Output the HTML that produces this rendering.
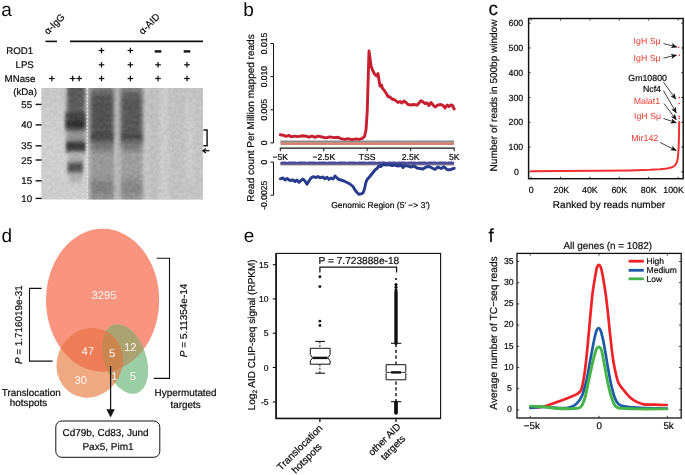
<!DOCTYPE html>
<html lang="en">
<head>
<meta charset="utf-8">
<title>Figure</title>
<style>
html,body{margin:0;padding:0;background:#fff;}
body{width:685px;height:475px;overflow:hidden;}
svg{display:block;font-family:'Liberation Sans', Arial, Helvetica, sans-serif;}
text{stroke-width:0.2px;paint-order:stroke;text-rendering:geometricPrecision;}
text.k{stroke:#0a0a0a;}
</style>
</head>
<body>
<svg width="685" height="475" viewBox="0 0 685 475">
<rect width="685" height="475" fill="#fff"/>
<text x="1.2" y="15.8" font-size="19" text-anchor="start" fill="#0b0b0b">a</text>
<defs><clipPath id="gelclip"><rect x="41.3" y="88.1" width="161.7" height="111.5"/></clipPath><filter id="b1" x="-50%" y="-50%" width="200%" height="200%"><feGaussianBlur stdDeviation="1.8 2.6"/></filter><filter id="b2" x="-50%" y="-50%" width="200%" height="200%"><feGaussianBlur stdDeviation="2.2 5"/></filter><filter id="b3" x="-50%" y="-50%" width="200%" height="200%"><feGaussianBlur stdDeviation="2 7"/></filter><filter id="grain" x="0" y="0" width="100%" height="100%" color-interpolation-filters="sRGB"><feTurbulence type="fractalNoise" baseFrequency="0.28" numOctaves="3" seed="11" result="n"/><feColorMatrix in="n" type="matrix" values="2.4 0 0 0 -0.7  2.4 0 0 0 -0.7  2.4 0 0 0 -0.7  0 0 0 0 0.045"/></filter><linearGradient id="gelbg" x1="0" y1="0" x2="0" y2="1"><stop offset="0" stop-color="#c9c9c9"/><stop offset="0.5" stop-color="#d3d3d3"/><stop offset="1" stop-color="#d0d0d0"/></linearGradient></defs>
<g clip-path="url(#gelclip)">
<rect x="41" y="88" width="163" height="112" fill="url(#gelbg)"/>
<rect x="146" y="84" width="58" height="120" fill="#c4c4c4" opacity="0.8" filter="url(#b2)"/>
<rect x="150" y="84" width="10" height="120" fill="#bdbdbd" opacity="0.5" filter="url(#b2)"/>
<rect x="160" y="84" width="8" height="120" fill="#d0d0d0" opacity="0.9" filter="url(#b2)"/>
<rect x="172" y="84" width="10" height="120" fill="#c2c2c2" opacity="0.5" filter="url(#b2)"/>
<rect x="186" y="100" width="8" height="80" fill="#d0d0d0" opacity="0.8" filter="url(#b2)"/>
<rect x="67" y="78" width="18" height="60" fill="#707070" opacity="0.95" filter="url(#b2)"/>
<rect x="68" y="80" width="16.5" height="30" fill="#505050" opacity="0.7" filter="url(#b1)"/>
<rect x="65.5" y="112" width="20" height="7" fill="#333" opacity="0.9" filter="url(#b1)"/>
<rect x="65.5" y="119" width="20" height="10" fill="#262626" opacity="0.95" filter="url(#b1)"/>
<rect x="68" y="131.5" width="16" height="9" fill="#999" opacity="0.7" filter="url(#b1)"/>
<rect x="66" y="141" width="19.5" height="11" fill="#2a2a2a" opacity="0.95" filter="url(#b1)"/>
<rect x="68.5" y="154" width="15" height="7" fill="#a5a5a5" opacity="0.75" filter="url(#b1)"/>
<rect x="67.5" y="162" width="15.5" height="11" fill="#404040" opacity="0.9" filter="url(#b1)"/>
<rect x="70" y="174" width="12" height="8" fill="#a0a0a0" opacity="0.7" filter="url(#b1)"/>
<rect x="89.5" y="78" width="25.5" height="130" fill="#9a9a9a" opacity="1" filter="url(#b2)"/>
<rect x="90.5" y="90" width="23" height="50" fill="#4e4e4e" opacity="0.95" filter="url(#b2)"/>
<rect x="91" y="134" width="22" height="6.5" fill="#303030" opacity="0.85" filter="url(#b1)"/>
<rect x="91" y="139" width="22" height="10" fill="#5c5c5c" opacity="0.8" filter="url(#b2)"/>
<rect x="91" y="181" width="22" height="14" fill="#747474" opacity="0.8" filter="url(#b2)"/>
<rect x="115.5" y="84" width="4" height="120" fill="#b4b4b4" opacity="0.7" filter="url(#b1)"/>
<rect x="120" y="78" width="23" height="130" fill="#9e9e9e" opacity="1" filter="url(#b2)"/>
<rect x="121" y="90" width="21" height="50" fill="#525252" opacity="0.95" filter="url(#b2)"/>
<rect x="121.5" y="134" width="20.5" height="6.5" fill="#343434" opacity="0.85" filter="url(#b1)"/>
<rect x="121.5" y="139" width="20.5" height="10" fill="#606060" opacity="0.8" filter="url(#b2)"/>
<rect x="121.5" y="181" width="20.5" height="14" fill="#7c7c7c" opacity="0.8" filter="url(#b2)"/>
<line x1="87.2" y1="88" x2="87.2" y2="200" stroke="#f0f0f0" stroke-width="1.3" stroke-dasharray="2.2 1.3" opacity="0.9"/>
<rect x="41" y="88" width="163" height="112" fill="#808080" filter="url(#grain)"/>
</g>
<line x1="45.5" y1="41.4" x2="57" y2="41.4" stroke="#111" stroke-width="1.6"/>
<line x1="70" y1="41.4" x2="203" y2="41.4" stroke="#111" stroke-width="1.6"/>
<text class="k" x="48" y="35" font-size="9.7" text-anchor="start" fill="#0a0a0a" transform="rotate(-45 48 35)">α-IgG</text>
<text class="k" x="142.7" y="35" font-size="9.7" text-anchor="start" fill="#0a0a0a" transform="rotate(-45 142.7 35)">α-AID</text>
<text class="k" x="6.3" y="54.3" font-size="9.7" text-anchor="start" fill="#0a0a0a">ROD1</text>
<text class="k" x="15.5" y="68.4" font-size="9.7" text-anchor="start" fill="#0a0a0a">LPS</text>
<text class="k" x="4.6" y="82.1" font-size="9.7" text-anchor="start" fill="#0a0a0a">MNase</text>
<text class="k" x="13.2" y="95.3" font-size="9.7" text-anchor="start" fill="#0a0a0a">(kDa)</text>
<line x1="98.7" y1="50.5" x2="104.3" y2="50.5" stroke="#111" stroke-width="1.25"/>
<line x1="101.5" y1="47.7" x2="101.5" y2="53.3" stroke="#111" stroke-width="1.25"/>
<line x1="127.60000000000001" y1="50.5" x2="133.20000000000002" y2="50.5" stroke="#111" stroke-width="1.25"/>
<line x1="130.4" y1="47.7" x2="130.4" y2="53.3" stroke="#111" stroke-width="1.25"/>
<line x1="154.7" y1="51.4" x2="161.3" y2="51.4" stroke="#111" stroke-width="2.4"/>
<line x1="183.7" y1="51.4" x2="190.3" y2="51.4" stroke="#111" stroke-width="2.4"/>
<line x1="98.7" y1="64.8" x2="104.3" y2="64.8" stroke="#111" stroke-width="1.25"/>
<line x1="101.5" y1="62.0" x2="101.5" y2="67.6" stroke="#111" stroke-width="1.25"/>
<line x1="127.60000000000001" y1="64.8" x2="133.20000000000002" y2="64.8" stroke="#111" stroke-width="1.25"/>
<line x1="130.4" y1="62.0" x2="130.4" y2="67.6" stroke="#111" stroke-width="1.25"/>
<line x1="155.2" y1="64.8" x2="160.8" y2="64.8" stroke="#111" stroke-width="1.25"/>
<line x1="158" y1="62.0" x2="158" y2="67.6" stroke="#111" stroke-width="1.25"/>
<line x1="184.2" y1="64.8" x2="189.8" y2="64.8" stroke="#111" stroke-width="1.25"/>
<line x1="187" y1="62.0" x2="187" y2="67.6" stroke="#111" stroke-width="1.25"/>
<line x1="49.0" y1="78.5" x2="54.599999999999994" y2="78.5" stroke="#111" stroke-width="1.25"/>
<line x1="51.8" y1="75.7" x2="51.8" y2="81.3" stroke="#111" stroke-width="1.25"/>
<line x1="69.8" y1="78.5" x2="75.39999999999999" y2="78.5" stroke="#111" stroke-width="1.25"/>
<line x1="72.6" y1="75.7" x2="72.6" y2="81.3" stroke="#111" stroke-width="1.25"/>
<line x1="76.4" y1="78.5" x2="82.0" y2="78.5" stroke="#111" stroke-width="1.25"/>
<line x1="79.2" y1="75.7" x2="79.2" y2="81.3" stroke="#111" stroke-width="1.25"/>
<line x1="98.7" y1="78.5" x2="104.3" y2="78.5" stroke="#111" stroke-width="1.25"/>
<line x1="101.5" y1="75.7" x2="101.5" y2="81.3" stroke="#111" stroke-width="1.25"/>
<line x1="127.60000000000001" y1="78.5" x2="133.20000000000002" y2="78.5" stroke="#111" stroke-width="1.25"/>
<line x1="130.4" y1="75.7" x2="130.4" y2="81.3" stroke="#111" stroke-width="1.25"/>
<line x1="155.2" y1="78.5" x2="160.8" y2="78.5" stroke="#111" stroke-width="1.25"/>
<line x1="158" y1="75.7" x2="158" y2="81.3" stroke="#111" stroke-width="1.25"/>
<line x1="184.2" y1="78.5" x2="189.8" y2="78.5" stroke="#111" stroke-width="1.25"/>
<line x1="187" y1="75.7" x2="187" y2="81.3" stroke="#111" stroke-width="1.25"/>
<text class="k" x="32.1" y="107.9" font-size="9.7" text-anchor="end" fill="#0a0a0a">55</text>
<line x1="35.6" y1="104.4" x2="41.6" y2="104.4" stroke="#111" stroke-width="1.4"/>
<text class="k" x="32.1" y="128.4" font-size="9.7" text-anchor="end" fill="#0a0a0a">40</text>
<line x1="35.6" y1="124.9" x2="41.6" y2="124.9" stroke="#111" stroke-width="1.4"/>
<text class="k" x="32.1" y="149.3" font-size="9.7" text-anchor="end" fill="#0a0a0a">35</text>
<line x1="35.6" y1="145.8" x2="41.6" y2="145.8" stroke="#111" stroke-width="1.4"/>
<text class="k" x="32.1" y="163.5" font-size="9.7" text-anchor="end" fill="#0a0a0a">25</text>
<line x1="35.6" y1="160" x2="41.6" y2="160" stroke="#111" stroke-width="1.4"/>
<text class="k" x="32.1" y="184.3" font-size="9.7" text-anchor="end" fill="#0a0a0a">15</text>
<line x1="35.6" y1="180.8" x2="41.6" y2="180.8" stroke="#111" stroke-width="1.4"/>
<text class="k" x="32.1" y="201.9" font-size="9.7" text-anchor="end" fill="#0a0a0a">10</text>
<line x1="35.6" y1="198.4" x2="41.6" y2="198.4" stroke="#111" stroke-width="1.4"/>
<path d="M203.4,130 H207.1 V145.7 H203.4" stroke="#111" stroke-width="1.4" fill="none"/>
<line x1="203.3" y1="150.7" x2="209.4" y2="150.7" stroke="#111" stroke-width="1.3"/>
<path d="M205.9,148.4 L203,150.7 L205.9,153" stroke="#111" stroke-width="1.3" fill="none"/>
<text x="243.2" y="15.8" font-size="19" text-anchor="start" fill="#0b0b0b">b</text>
<text class="k" x="253.6" y="118" font-size="10" text-anchor="middle" fill="#0a0a0a" transform="rotate(-90 253.6 118)">Read count Per Million mapped reads</text>
<line x1="273.5" y1="43.5" x2="273.5" y2="142.9" stroke="#111" stroke-width="1"/>
<line x1="270.5" y1="43.5" x2="273.5" y2="43.5" stroke="#111" stroke-width="1"/>
<text class="k" x="267.3" y="43.5" font-size="8.6" text-anchor="middle" fill="#0a0a0a" transform="rotate(-90 267.3 43.5)">0.015</text>
<line x1="270.5" y1="76.6" x2="273.5" y2="76.6" stroke="#111" stroke-width="1"/>
<text class="k" x="267.3" y="76.6" font-size="8.6" text-anchor="middle" fill="#0a0a0a" transform="rotate(-90 267.3 76.6)">0.010</text>
<line x1="270.5" y1="109.8" x2="273.5" y2="109.8" stroke="#111" stroke-width="1"/>
<text class="k" x="267.3" y="109.8" font-size="8.6" text-anchor="middle" fill="#0a0a0a" transform="rotate(-90 267.3 109.8)">0.005</text>
<line x1="270.5" y1="142.9" x2="273.5" y2="142.9" stroke="#111" stroke-width="1"/>
<text class="k" x="267.3" y="142.9" font-size="8.6" text-anchor="middle" fill="#0a0a0a" transform="rotate(-90 267.3 142.9)">0</text>
<line x1="279.8" y1="148.2" x2="454.7" y2="148.2" stroke="#111" stroke-width="1.2"/>
<line x1="280.3" y1="148.2" x2="280.3" y2="151.2" stroke="#111" stroke-width="1"/>
<text class="k" x="280.3" y="159.7" font-size="8.6" text-anchor="middle" fill="#0a0a0a">−5K</text>
<line x1="323.8" y1="148.2" x2="323.8" y2="151.2" stroke="#111" stroke-width="1"/>
<text class="k" x="323.8" y="159.7" font-size="8.6" text-anchor="middle" fill="#0a0a0a">−2.5K</text>
<line x1="367.2" y1="148.2" x2="367.2" y2="151.2" stroke="#111" stroke-width="1"/>
<text class="k" x="367.2" y="159.7" font-size="8.6" text-anchor="middle" fill="#0a0a0a">TSS</text>
<line x1="410.7" y1="148.2" x2="410.7" y2="151.2" stroke="#111" stroke-width="1"/>
<text class="k" x="410.7" y="159.7" font-size="8.6" text-anchor="middle" fill="#0a0a0a">2.5K</text>
<line x1="454.2" y1="148.2" x2="454.2" y2="151.2" stroke="#111" stroke-width="1"/>
<text class="k" x="454.2" y="159.7" font-size="8.6" text-anchor="middle" fill="#0a0a0a">5K</text>
<line x1="273.5" y1="162" x2="273.5" y2="195.2" stroke="#111" stroke-width="1"/>
<line x1="270.5" y1="162" x2="273.5" y2="162" stroke="#111" stroke-width="1"/>
<text class="k" x="267.3" y="162" font-size="8.6" text-anchor="middle" fill="#0a0a0a" transform="rotate(-90 267.3 162)">0</text>
<line x1="270.5" y1="195.2" x2="273.5" y2="195.2" stroke="#111" stroke-width="1"/>
<text class="k" x="267.3" y="195.2" font-size="8.6" text-anchor="middle" fill="#0a0a0a" transform="rotate(-90 267.3 195.2)">-0.0025</text>
<text class="k" x="380.5" y="208.2" font-size="8.5" text-anchor="middle" fill="#0a0a0a">Genomic Region (5' −&gt; 3')</text>
<line x1="280.3" y1="141.6" x2="454.2" y2="141.6" stroke="#8a8a8a" stroke-width="2.2"/>
<line x1="281.6" y1="143.75" x2="453" y2="143.75" stroke="#dc7f6b" stroke-width="2.5" stroke-dasharray="8.1 1.9" stroke-dashoffset="3.3" stroke-linecap="round"/>
<line x1="280.3" y1="164.3" x2="454.2" y2="164.3" stroke="#8f8f8f" stroke-width="2.2"/>
<line x1="281.7" y1="163" x2="452.8" y2="163" stroke="#4b4b9a" stroke-width="3" stroke-dasharray="7.7 2.3" stroke-dashoffset="3.6" stroke-linecap="round"/>
<path d="M280.3,134.8 L283.0,135.2 L286.0,136.4 L289.0,135.3 L291.0,136.9 L294.0,136.1 L298.0,136.6 L303.0,135.8 L306.0,136.2 L309.0,137.2 L312.0,136.0 L315.0,137.3 L318.0,136.2 L322.0,137.0 L326.0,137.8 L330.0,136.8 L334.0,137.6 L338.0,137.2 L341.0,138.6 L345.0,139.4 L348.0,138.6 L352.0,139.6 L356.0,138.8 L359.0,139.4 L362.0,138.6 L364.5,136.5 L366.0,130.0 L367.2,112.0 L368.2,78.0 L369.0,51.0 L370.0,58.0 L371.0,66.0 L372.5,70.0 L374.5,74.0 L376.5,76.0 L378.0,73.5 L379.0,80.0 L380.0,86.0 L381.5,85.0 L382.5,88.5 L384.0,90.0 L386.0,93.0 L388.0,96.5 L390.0,97.0 L392.0,99.0 L395.0,100.0 L398.0,102.5 L400.0,101.5 L402.0,103.0 L404.0,101.0 L406.0,102.5 L408.0,104.5 L411.0,105.0 L414.0,104.5 L417.0,105.2 L419.0,103.0 L421.0,100.8 L423.0,102.0 L425.0,103.5 L427.0,103.0 L429.0,105.5 L431.0,102.5 L433.0,105.0 L435.0,107.0 L438.0,105.0 L441.0,104.5 L443.0,105.5 L445.0,108.0 L447.0,105.0 L449.0,106.5 L451.0,105.0 L452.5,105.5 L454.2,109.0" stroke="#c61f30" stroke-width="2.9" fill="none" stroke-linejoin="round" stroke-linecap="round"/>
<path d="M280.3,178.8 L283.0,178.0 L285.0,180.0 L287.0,178.5 L290.0,180.5 L293.0,180.0 L295.0,181.5 L297.0,180.0 L299.0,182.3 L301.0,180.5 L303.0,179.0 L305.0,181.0 L307.0,184.3 L309.0,181.0 L311.0,178.0 L313.0,176.6 L316.0,177.5 L318.0,176.4 L320.0,177.8 L323.0,177.0 L325.0,178.8 L327.0,177.2 L329.0,179.4 L331.0,178.0 L333.0,179.0 L335.0,176.0 L337.0,178.0 L339.0,179.5 L341.0,180.0 L344.0,181.0 L347.0,182.5 L350.0,184.0 L353.0,186.5 L355.0,190.0 L357.0,192.5 L359.0,194.3 L361.0,193.8 L363.0,193.0 L364.5,189.0 L366.0,182.0 L367.5,179.0 L369.0,177.5 L371.0,175.0 L373.0,172.5 L375.0,170.0 L377.0,168.5 L379.0,166.0 L381.0,166.5 L383.0,164.5 L386.0,165.0 L389.0,164.6 L392.0,165.5 L395.0,165.0 L398.0,166.0 L401.0,165.0 L403.0,167.5 L405.0,165.6 L408.0,166.2 L411.0,167.0 L414.0,166.0 L417.0,168.0 L420.0,168.5 L423.0,169.0 L426.0,167.0 L429.0,166.5 L432.0,168.0 L435.0,169.3 L438.0,167.0 L441.0,168.5 L444.0,166.8 L447.0,169.5 L450.0,169.8 L452.0,169.0 L454.2,168.3" stroke="#283a8c" stroke-width="2.9" fill="none" stroke-linejoin="round" stroke-linecap="round"/>
<text x="488.5" y="14.8" font-size="19" text-anchor="start" fill="#0b0b0b" stroke="#111" stroke-width="0.45">c</text>
<text class="k" x="496.5" y="95.5" font-size="10" text-anchor="middle" fill="#0a0a0a" transform="rotate(-90 496.5 95.5)">Number of reads in 500bp window</text>
<rect x="528.6" y="18.5" width="154.6" height="160.2" fill="none" stroke="#111" stroke-width="1.45"/>
<line x1="528.6" y1="171.8" x2="530.6" y2="171.8" stroke="#111" stroke-width="0.8"/>
<line x1="681.2" y1="171.8" x2="683.2" y2="171.8" stroke="#111" stroke-width="0.8"/>
<text class="k" x="516.5" y="175.0" font-size="8.8" text-anchor="middle" fill="#0a0a0a">0</text>
<line x1="528.6" y1="147.03" x2="530.6" y2="147.03" stroke="#111" stroke-width="0.8"/>
<line x1="681.2" y1="147.03" x2="683.2" y2="147.03" stroke="#111" stroke-width="0.8"/>
<text class="k" x="515.9" y="150.23" font-size="8.8" text-anchor="middle" fill="#0a0a0a">100</text>
<line x1="528.6" y1="122.26000000000002" x2="530.6" y2="122.26000000000002" stroke="#111" stroke-width="0.8"/>
<line x1="681.2" y1="122.26000000000002" x2="683.2" y2="122.26000000000002" stroke="#111" stroke-width="0.8"/>
<text class="k" x="515.9" y="125.46000000000002" font-size="8.8" text-anchor="middle" fill="#0a0a0a">200</text>
<line x1="528.6" y1="97.49000000000001" x2="530.6" y2="97.49000000000001" stroke="#111" stroke-width="0.8"/>
<line x1="681.2" y1="97.49000000000001" x2="683.2" y2="97.49000000000001" stroke="#111" stroke-width="0.8"/>
<text class="k" x="515.9" y="100.69000000000001" font-size="8.8" text-anchor="middle" fill="#0a0a0a">300</text>
<line x1="528.6" y1="72.72000000000001" x2="530.6" y2="72.72000000000001" stroke="#111" stroke-width="0.8"/>
<line x1="681.2" y1="72.72000000000001" x2="683.2" y2="72.72000000000001" stroke="#111" stroke-width="0.8"/>
<text class="k" x="515.9" y="75.92000000000002" font-size="8.8" text-anchor="middle" fill="#0a0a0a">400</text>
<line x1="528.6" y1="47.95000000000002" x2="530.6" y2="47.95000000000002" stroke="#111" stroke-width="0.8"/>
<line x1="681.2" y1="47.95000000000002" x2="683.2" y2="47.95000000000002" stroke="#111" stroke-width="0.8"/>
<text class="k" x="515.9" y="51.15000000000002" font-size="8.8" text-anchor="middle" fill="#0a0a0a">500</text>
<line x1="528.6" y1="23.180000000000007" x2="530.6" y2="23.180000000000007" stroke="#111" stroke-width="0.8"/>
<line x1="681.2" y1="23.180000000000007" x2="683.2" y2="23.180000000000007" stroke="#111" stroke-width="0.8"/>
<text class="k" x="515.9" y="26.380000000000006" font-size="8.8" text-anchor="middle" fill="#0a0a0a">600</text>
<line x1="531.1" y1="178.7" x2="531.1" y2="176.7" stroke="#111" stroke-width="0.8"/>
<line x1="531.1" y1="18.5" x2="531.1" y2="20.5" stroke="#111" stroke-width="0.8"/>
<text class="k" x="531.1" y="192.8" font-size="8.8" text-anchor="middle" fill="#0a0a0a">0</text>
<line x1="560.5" y1="178.7" x2="560.5" y2="176.7" stroke="#111" stroke-width="0.8"/>
<line x1="560.5" y1="18.5" x2="560.5" y2="20.5" stroke="#111" stroke-width="0.8"/>
<text class="k" x="561.4" y="192.8" font-size="8.8" text-anchor="middle" fill="#0a0a0a">20K</text>
<line x1="589.9" y1="178.7" x2="589.9" y2="176.7" stroke="#111" stroke-width="0.8"/>
<line x1="589.9" y1="18.5" x2="589.9" y2="20.5" stroke="#111" stroke-width="0.8"/>
<text class="k" x="589.9" y="192.8" font-size="8.8" text-anchor="middle" fill="#0a0a0a">40K</text>
<line x1="619.3" y1="178.7" x2="619.3" y2="176.7" stroke="#111" stroke-width="0.8"/>
<line x1="619.3" y1="18.5" x2="619.3" y2="20.5" stroke="#111" stroke-width="0.8"/>
<text class="k" x="619.3" y="192.8" font-size="8.8" text-anchor="middle" fill="#0a0a0a">60K</text>
<line x1="648.7" y1="178.7" x2="648.7" y2="176.7" stroke="#111" stroke-width="0.8"/>
<line x1="648.7" y1="18.5" x2="648.7" y2="20.5" stroke="#111" stroke-width="0.8"/>
<text class="k" x="648.7" y="192.8" font-size="8.8" text-anchor="middle" fill="#0a0a0a">80K</text>
<line x1="678.1" y1="178.7" x2="678.1" y2="176.7" stroke="#111" stroke-width="0.8"/>
<line x1="678.1" y1="18.5" x2="678.1" y2="20.5" stroke="#111" stroke-width="0.8"/>
<text class="k" x="673.6" y="192.8" font-size="8.8" text-anchor="middle" fill="#0a0a0a">100K</text>
<text class="k" x="609" y="207.6" font-size="10" text-anchor="middle" fill="#0a0a0a">Ranked by reads number</text>
<path d="M531.1,171.2 L560.0,171.1 L600.0,170.8 L630.0,170.4 L650.0,169.8 L660.0,169.2 L667.0,168.4 L672.0,167.3 L675.0,165.5 L676.8,162.5 L677.8,158.0 L678.5,150.0 L678.9,140.0 L679.2,122.0" stroke="#f03030" stroke-width="2" fill="none" stroke-linejoin="round" stroke-linecap="round"/>
<rect x="678.5999999999999" y="117.8" width="1.4" height="1.4" fill="#f03030"/>
<rect x="678.5999999999999" y="115.8" width="1.4" height="1.4" fill="#f03030"/>
<rect x="678.5999999999999" y="102.8" width="1.4" height="1.4" fill="#f03030"/>
<rect x="678.5999999999999" y="96.8" width="1.4" height="1.4" fill="#f03030"/>
<rect x="678.5999999999999" y="54.5" width="1.4" height="1.4" fill="#f03030"/>
<rect x="677.9" y="46.599999999999994" width="1.4" height="1.4" fill="#f03030"/>
<text x="633.6" y="43.8" font-size="8.8" text-anchor="start" fill="#ee3a30">IgH Sμ</text>
<text x="633.6" y="60.9" font-size="8.8" text-anchor="start" fill="#ee3a30">IgH Sμ</text>
<text class="k" x="628.3" y="80.8" font-size="8.8" text-anchor="start" fill="#0a0a0a">Gm10800</text>
<text class="k" x="642.9" y="92.2" font-size="8.8" text-anchor="start" fill="#0a0a0a">Ncf4</text>
<text x="633.7" y="104.4" font-size="8.8" text-anchor="start" fill="#ee3a30">Malat1</text>
<text x="634" y="119.2" font-size="8.8" text-anchor="start" fill="#ee3a30">IgH Sμ</text>
<text x="631.3" y="140.6" font-size="8.8" text-anchor="start" fill="#ee3a30">Mir142</text>
<defs><marker id="ah" markerWidth="8" markerHeight="6" refX="5.6" refY="2.6" orient="auto" markerUnits="userSpaceOnUse"><path d="M0,0 L6.2,2.6 L0,5.2 L1.5,2.6 Z" fill="#111"/></marker></defs>
<line x1="663.5" y1="43.6" x2="676.8" y2="47" stroke="#111" stroke-width="0.8" marker-end="url(#ah)"/>
<line x1="663.5" y1="58" x2="676.5" y2="55.2" stroke="#111" stroke-width="0.8" marker-end="url(#ah)"/>
<line x1="663.5" y1="82.2" x2="675.7" y2="99" stroke="#111" stroke-width="0.8" marker-end="url(#ah)"/>
<line x1="663.5" y1="90.6" x2="676.2" y2="112.7" stroke="#111" stroke-width="0.8" marker-end="url(#ah)"/>
<line x1="664" y1="103.5" x2="676.2" y2="119.7" stroke="#111" stroke-width="0.8" marker-end="url(#ah)"/>
<line x1="663.5" y1="118.5" x2="676.2" y2="122.7" stroke="#111" stroke-width="0.8" marker-end="url(#ah)"/>
<line x1="660" y1="142.4" x2="676.2" y2="150.5" stroke="#111" stroke-width="0.8" marker-end="url(#ah)"/>
<text x="1.4" y="241.6" font-size="19" text-anchor="start" fill="#0b0b0b">d</text>
<defs><clipPath id="cB"><ellipse cx="102.6" cy="300.2" rx="56.6" ry="71.5"/></clipPath><clipPath id="cO"><ellipse cx="89.7" cy="362.8" rx="32.5" ry="35.7" transform="rotate(29 89.7 362.8)"/></clipPath><clipPath id="cG"><ellipse cx="125.2" cy="359" rx="36.1" ry="20.9" transform="rotate(71 125.2 359)"/></clipPath></defs>
<ellipse cx="102.6" cy="300.2" rx="56.6" ry="71.5" fill="#f9957e"/>
<ellipse cx="125.2" cy="359" rx="36.1" ry="20.9" transform="rotate(71 125.2 359)" fill="#9bcea4"/>
<ellipse cx="89.7" cy="362.8" rx="32.5" ry="35.7" transform="rotate(29 89.7 362.8)" fill="#eea882"/>
<g clip-path="url(#cG)"><ellipse cx="89.7" cy="362.8" rx="32.5" ry="35.7" transform="rotate(29 89.7 362.8)" fill="#ca9663"/></g>
<g clip-path="url(#cB)"><ellipse cx="89.7" cy="362.8" rx="32.5" ry="35.7" transform="rotate(29 89.7 362.8)" fill="#ee7d57"/><ellipse cx="125.2" cy="359" rx="36.1" ry="20.9" transform="rotate(71 125.2 359)" fill="#aaa371"/><g clip-path="url(#cG)"><ellipse cx="89.7" cy="362.8" rx="32.5" ry="35.7" transform="rotate(29 89.7 362.8)" fill="#cd854f"/></g></g>
<text x="104" y="298.6" font-size="11.3" text-anchor="middle" fill="#fff5ee">3295</text>
<text x="87.7" y="354.8" font-size="11.3" text-anchor="middle" fill="#fff5ee">47</text>
<text x="112.2" y="357.3" font-size="11.3" text-anchor="middle" fill="#fff5ee">5</text>
<text x="130.3" y="351.4" font-size="11.3" text-anchor="middle" fill="#fff5ee">12</text>
<text x="80.8" y="384.4" font-size="11.3" text-anchor="middle" fill="#fff5ee">30</text>
<text x="114.4" y="380" font-size="11.3" text-anchor="middle" fill="#fff5ee">1</text>
<text x="132.9" y="379.7" font-size="11.3" text-anchor="middle" fill="#fff5ee">5</text>
<path d="M41.6,288.4 H29.5 V361.1 H52.6" stroke="#111" stroke-width="1.1" fill="none"/>
<path d="M156.6,258.3 H169.5 V378.4 H153.8" stroke="#111" stroke-width="1.1" fill="none"/>
<text class="k" x="21.6" y="324.7" font-size="9.9" text-anchor="middle" fill="#0a0a0a" transform="rotate(-90 21.6 324.7)"><tspan font-style="italic">P</tspan> = 1.716019e-31</text>
<text class="k" x="186.6" y="320.4" font-size="10" text-anchor="middle" fill="#0a0a0a" transform="rotate(-90 186.6 320.4)"><tspan font-style="italic">P</tspan> = 5.11354e-14</text>
<text class="k" x="31.2" y="395.6" font-size="9.9" text-anchor="middle" fill="#0a0a0a">Translocation</text>
<text class="k" x="28.5" y="406.3" font-size="9.9" text-anchor="middle" fill="#0a0a0a">hotspots</text>
<text class="k" x="185.6" y="395.8" font-size="9.9" text-anchor="middle" fill="#0a0a0a">Hypermutated</text>
<text class="k" x="185.6" y="407.6" font-size="9.9" text-anchor="middle" fill="#0a0a0a">targets</text>
<line x1="110.6" y1="366" x2="110.6" y2="412" stroke="#111" stroke-width="1.2"/>
<path d="M106.8,409.5 L110.6,417 L114.4,409.5 Z" stroke="#111" stroke-width="0.5" fill="#111"/>
<rect x="55.8" y="421" width="104" height="36.3" rx="6" ry="6" fill="#fff" stroke="#111" stroke-width="1"/>
<text class="k" x="105.5" y="436.2" font-size="10" text-anchor="middle" fill="#0a0a0a">Cd79b, Cd83, Jund</text>
<text class="k" x="108" y="449.8" font-size="10" text-anchor="middle" fill="#0a0a0a">Pax5, Pim1</text>
<text x="243.8" y="241.5" font-size="19" text-anchor="start" fill="#0b0b0b">e</text>
<text class="k" x="254.8" y="334.8" font-size="10" text-anchor="middle" fill="#0a0a0a" transform="rotate(-90 254.8 334.8)">Log<tspan font-size="6.5" dy="2">2</tspan><tspan dy="-2"> AID CLIP-seq signal (RPKM)</tspan></text>
<rect x="276.1" y="253.4" width="164.5" height="165" fill="none" stroke="#111" stroke-width="1.1"/>
<path d="M276.1,253.4 V418.4 H440.6" stroke="#111" stroke-width="1.5" fill="none"/>
<line x1="272.8" y1="264.7" x2="276.1" y2="264.7" stroke="#111" stroke-width="1.1"/>
<text class="k" x="268.6" y="267.8" font-size="8.6" text-anchor="end" fill="#0a0a0a">15</text>
<line x1="272.8" y1="298.9" x2="276.1" y2="298.9" stroke="#111" stroke-width="1.1"/>
<text class="k" x="268.6" y="302.0" font-size="8.6" text-anchor="end" fill="#0a0a0a">10</text>
<line x1="272.8" y1="333.2" x2="276.1" y2="333.2" stroke="#111" stroke-width="1.1"/>
<text class="k" x="268.6" y="336.3" font-size="8.6" text-anchor="end" fill="#0a0a0a">5</text>
<line x1="272.8" y1="367.5" x2="276.1" y2="367.5" stroke="#111" stroke-width="1.1"/>
<text class="k" x="268.6" y="370.6" font-size="8.6" text-anchor="end" fill="#0a0a0a">0</text>
<line x1="272.8" y1="402" x2="276.1" y2="402" stroke="#111" stroke-width="1.1"/>
<text class="k" x="268.6" y="405.1" font-size="8.6" text-anchor="end" fill="#0a0a0a">-5</text>
<line x1="319.9" y1="418.4" x2="319.9" y2="422" stroke="#111" stroke-width="1.3"/>
<line x1="396" y1="418.4" x2="396" y2="422" stroke="#111" stroke-width="1.3"/>
<path d="M319.9,272.5 V267.1 H396.6 V272.5" stroke="#111" stroke-width="1.25" fill="none"/>
<text class="k" x="318.6" y="263.8" font-size="10.15" text-anchor="start" fill="#0a0a0a">P = 7.723888e-18</text>
<circle cx="319.9" cy="276.7" r="1.45" fill="#111"/>
<circle cx="319.9" cy="286.6" r="1.45" fill="#111"/>
<circle cx="319.9" cy="321.1" r="1.45" fill="#111"/>
<circle cx="319.9" cy="325.5" r="1.45" fill="#111"/>
<line x1="315.3" y1="341.4" x2="324.9" y2="341.4" stroke="#111" stroke-width="1.1"/>
<line x1="319.9" y1="341.4" x2="319.9" y2="348.3" stroke="#111" stroke-width="1" stroke-dasharray="2 1.5"/>
<path d="M310.3,348.3 H330.1 V354.6 L327.8,357.9 L330.1,360.9 V364.2 H310.3 V360.9 L312.6,357.9 L310.3,354.6 Z" stroke="#111" stroke-width="1" fill="#fff"/>
<line x1="312.8" y1="357.9" x2="327.6" y2="357.9" stroke="#111" stroke-width="2.4"/>
<line x1="319.9" y1="364.2" x2="319.9" y2="373.2" stroke="#111" stroke-width="1" stroke-dasharray="2 1.5"/>
<line x1="315.3" y1="373.2" x2="324.9" y2="373.2" stroke="#111" stroke-width="1.1"/>
<line x1="396" y1="292" x2="396" y2="343.3" stroke="#111" stroke-width="3.4" stroke-linecap="round"/>
<circle cx="396" cy="279" r="1.1" fill="#111"/>
<circle cx="396" cy="284.6" r="1.55" fill="#111"/>
<circle cx="396" cy="287.2" r="1.55" fill="#111"/>
<circle cx="396" cy="289.8" r="1.55" fill="#111"/>
<line x1="391" y1="343.3" x2="401.2" y2="343.3" stroke="#111" stroke-width="1.1"/>
<line x1="396" y1="344" x2="396" y2="364.7" stroke="#111" stroke-width="1.4" stroke-dasharray="3.2 2.6"/>
<path d="M386.1,364.7 H405.8 V371.3 L405,372.4 L405.8,373.5 V379.8 H386.1 V373.5 L386.9,372.4 L386.1,371.3 Z" stroke="#111" stroke-width="1" fill="#fff"/>
<line x1="391" y1="372.4" x2="401" y2="372.4" stroke="#111" stroke-width="2.4"/>
<line x1="386.5" y1="372.4" x2="405.4" y2="372.4" stroke="#111" stroke-width="0.8"/>
<line x1="396" y1="381.5" x2="396" y2="401.7" stroke="#111" stroke-width="1.4" stroke-dasharray="3.2 2.6"/>
<line x1="391" y1="401.7" x2="401.2" y2="401.7" stroke="#111" stroke-width="1.1"/>
<line x1="396" y1="402.5" x2="396" y2="412.8" stroke="#111" stroke-width="3.8" stroke-linecap="round"/>
<text class="k" x="323.3" y="428.7" font-size="10" text-anchor="end" fill="#0a0a0a" transform="rotate(-45 323.3 428.7)">Translocation</text>
<text class="k" x="322.4" y="447.3" font-size="10" text-anchor="end" fill="#0a0a0a" transform="rotate(-45 322.4 447.3)">hotspots</text>
<text class="k" x="401.3" y="427.2" font-size="9.9" text-anchor="end" fill="#0a0a0a" transform="rotate(-45 401.3 427.2)">other AID</text>
<text class="k" x="406" y="439.3" font-size="9.9" text-anchor="end" fill="#0a0a0a" transform="rotate(-45 406 439.3)">targets</text>
<text x="488.6" y="241.5" font-size="19" text-anchor="start" fill="#0b0b0b" stroke="#111" stroke-width="0.45">f</text>
<text class="k" x="497" y="333" font-size="10.2" text-anchor="middle" fill="#0a0a0a" transform="rotate(-90 497 333)">Average number of TC−seq reads</text>
<text class="k" x="607.8" y="248.6" font-size="9.9" text-anchor="middle" fill="#0a0a0a">All genes (n = 1082)</text>
<rect x="517" y="253.4" width="164.2" height="164.6" fill="none" stroke="#111" stroke-width="1.3"/>
<line x1="517" y1="409.9" x2="519.2" y2="409.9" stroke="#111" stroke-width="0.8"/>
<line x1="679" y1="409.9" x2="681.2" y2="409.9" stroke="#111" stroke-width="0.8"/>
<text class="k" x="509.5" y="412.09999999999997" font-size="8.7" text-anchor="middle" fill="#0a0a0a">0</text>
<line x1="517" y1="388.7" x2="519.2" y2="388.7" stroke="#111" stroke-width="0.8"/>
<line x1="679" y1="388.7" x2="681.2" y2="388.7" stroke="#111" stroke-width="0.8"/>
<text class="k" x="509.5" y="390.9" font-size="8.7" text-anchor="middle" fill="#0a0a0a">5</text>
<line x1="517" y1="367.5" x2="519.2" y2="367.5" stroke="#111" stroke-width="0.8"/>
<line x1="679" y1="367.5" x2="681.2" y2="367.5" stroke="#111" stroke-width="0.8"/>
<text class="k" x="508.8" y="369.7" font-size="8.7" text-anchor="middle" fill="#0a0a0a">10</text>
<line x1="517" y1="346.29999999999995" x2="519.2" y2="346.29999999999995" stroke="#111" stroke-width="0.8"/>
<line x1="679" y1="346.29999999999995" x2="681.2" y2="346.29999999999995" stroke="#111" stroke-width="0.8"/>
<text class="k" x="508.8" y="348.49999999999994" font-size="8.7" text-anchor="middle" fill="#0a0a0a">15</text>
<line x1="517" y1="325.09999999999997" x2="519.2" y2="325.09999999999997" stroke="#111" stroke-width="0.8"/>
<line x1="679" y1="325.09999999999997" x2="681.2" y2="325.09999999999997" stroke="#111" stroke-width="0.8"/>
<text class="k" x="508.8" y="327.29999999999995" font-size="8.7" text-anchor="middle" fill="#0a0a0a">20</text>
<line x1="517" y1="303.9" x2="519.2" y2="303.9" stroke="#111" stroke-width="0.8"/>
<line x1="679" y1="303.9" x2="681.2" y2="303.9" stroke="#111" stroke-width="0.8"/>
<text class="k" x="508.8" y="306.09999999999997" font-size="8.7" text-anchor="middle" fill="#0a0a0a">25</text>
<line x1="517" y1="282.7" x2="519.2" y2="282.7" stroke="#111" stroke-width="0.8"/>
<line x1="679" y1="282.7" x2="681.2" y2="282.7" stroke="#111" stroke-width="0.8"/>
<text class="k" x="508.8" y="284.9" font-size="8.7" text-anchor="middle" fill="#0a0a0a">30</text>
<line x1="517" y1="261.5" x2="519.2" y2="261.5" stroke="#111" stroke-width="0.8"/>
<line x1="679" y1="261.5" x2="681.2" y2="261.5" stroke="#111" stroke-width="0.8"/>
<text class="k" x="508.8" y="263.7" font-size="8.7" text-anchor="middle" fill="#0a0a0a">35</text>
<line x1="530.2" y1="418" x2="530.2" y2="415.8" stroke="#111" stroke-width="0.8"/>
<line x1="530.2" y1="253.4" x2="530.2" y2="255.6" stroke="#111" stroke-width="0.8"/>
<text class="k" x="531.8000000000001" y="428.8" font-size="9.8" text-anchor="middle" fill="#0a0a0a">−5k</text>
<line x1="599" y1="418" x2="599" y2="415.8" stroke="#111" stroke-width="0.8"/>
<line x1="599" y1="253.4" x2="599" y2="255.6" stroke="#111" stroke-width="0.8"/>
<text class="k" x="599.2" y="428.8" font-size="9.8" text-anchor="middle" fill="#0a0a0a">0</text>
<line x1="667.3" y1="418" x2="667.3" y2="415.8" stroke="#111" stroke-width="0.8"/>
<line x1="667.3" y1="253.4" x2="667.3" y2="255.6" stroke="#111" stroke-width="0.8"/>
<text class="k" x="668.5999999999999" y="428.8" font-size="9.8" text-anchor="middle" fill="#0a0a0a">5k</text>
<path d="M530.5,407.6 C532.6,407.4 539.3,407.4 543.4,406.6 C547.5,405.8 551.1,404.2 555.0,402.8 C558.9,401.4 563.2,399.8 566.7,398.4 C570.2,397.0 573.9,395.7 576.0,394.6 C578.1,393.5 578.6,393.1 579.6,392.0 C580.6,390.9 581.1,390.7 581.9,387.9 C582.7,385.1 583.5,380.2 584.3,375.0 C585.1,369.8 585.8,363.8 586.6,356.4 C587.4,349.0 588.3,338.2 589.0,330.8 C589.7,323.4 590.1,318.2 590.7,311.9 C591.3,305.6 591.8,299.2 592.6,292.9 C593.4,286.6 594.9,278.3 595.6,274.0 C596.3,269.7 596.5,268.8 597.0,267.3 C597.5,265.8 598.3,264.8 598.9,264.8 C599.5,264.8 600.2,265.8 600.8,267.3 C601.4,268.8 601.6,269.7 602.4,274.0 C603.2,278.3 604.6,286.6 605.5,292.9 C606.4,299.2 607.1,305.6 607.8,311.9 C608.5,318.2 609.0,323.8 609.7,330.8 C610.5,337.8 611.5,347.8 612.3,354.0 C613.1,360.2 613.6,363.3 614.6,368.0 C615.6,372.7 616.7,378.5 618.1,382.0 C619.5,385.5 620.8,386.5 622.8,389.0 C624.8,391.5 627.5,395.1 629.8,397.2 C632.1,399.3 634.5,400.7 636.8,401.9 C639.1,403.1 640.7,403.8 643.8,404.3 C646.9,404.8 651.6,404.6 655.5,404.7 C659.4,404.8 665.0,404.9 666.9,405.0" stroke="#ee2227" stroke-width="2.7" fill="none" stroke-linejoin="round" stroke-linecap="round"/>
<path d="M530.5,407.8 C532.6,407.7 538.1,406.9 543.4,407.0 C548.6,407.1 557.7,408.1 562.0,408.2 C566.3,408.3 566.7,408.2 569.0,407.6 C571.3,407.0 573.9,406.2 576.0,404.3 C578.1,402.4 580.1,400.1 581.9,396.0 C583.7,391.9 585.2,385.5 586.6,379.7 C588.0,373.9 589.0,366.9 590.1,361.0 C591.2,355.1 592.4,348.7 593.2,344.6 C594.0,340.5 594.3,338.9 594.9,336.5 C595.5,334.1 596.0,331.8 596.6,330.4 C597.2,329.0 597.9,328.0 598.6,328.0 C599.3,328.0 600.0,329.0 600.6,330.4 C601.2,331.8 601.7,334.0 602.3,336.5 C602.9,339.0 603.3,340.6 604.2,345.5 C605.1,350.4 606.5,359.2 607.6,365.7 C608.8,372.2 609.9,379.1 611.1,384.4 C612.3,389.6 613.4,394.0 614.6,397.2 C615.8,400.4 616.7,402.1 618.1,403.6 C619.5,405.1 620.5,405.5 622.8,406.1 C625.1,406.7 628.2,407.0 632.1,407.3 C636.0,407.6 640.4,408.0 646.2,408.2 C652.0,408.4 663.5,408.6 666.9,408.7" stroke="#1d5aa6" stroke-width="2.7" fill="none" stroke-linejoin="round" stroke-linecap="round"/>
<path d="M530.5,406.1 C532.6,406.2 539.3,406.5 543.4,406.8 C547.5,407.1 551.1,407.9 555.0,408.2 C558.9,408.5 562.8,408.7 566.7,408.7 C570.6,408.7 575.9,408.8 578.4,408.2 C580.9,407.6 580.7,407.4 581.9,405.4 C583.1,403.4 584.2,400.3 585.4,396.0 C586.6,391.7 587.7,385.1 588.9,379.7 C590.1,374.3 591.3,368.2 592.4,363.4 C593.5,358.6 594.9,353.6 595.7,351.0 C596.5,348.4 596.6,348.7 597.1,348.0 C597.6,347.3 598.2,346.9 598.7,346.9 C599.2,346.9 599.8,347.2 600.3,348.0 C600.8,348.8 601.2,348.8 601.9,351.7 C602.6,354.6 603.6,360.6 604.6,365.7 C605.6,370.8 606.5,376.9 607.6,382.0 C608.7,387.1 609.9,392.2 611.1,396.0 C612.3,399.8 613.4,403.0 614.6,405.0 C615.8,407.0 616.4,407.2 618.1,407.8 C619.9,408.4 622.0,408.3 625.1,408.5 C628.2,408.7 629.8,408.8 636.8,408.9 C643.8,409.0 661.9,408.9 666.9,408.9" stroke="#45b549" stroke-width="2.9" fill="none" stroke-linejoin="round" stroke-linecap="round"/>
<line x1="628.6" y1="261.2" x2="643.8" y2="261.2" stroke="#ee2227" stroke-width="2.8"/>
<text class="k" x="646.6" y="264.2" font-size="8.5" text-anchor="start" fill="#0a0a0a">High</text>
<line x1="628.6" y1="270.3" x2="643.8" y2="270.3" stroke="#1d5aa6" stroke-width="2.8"/>
<text class="k" x="646.6" y="273.3" font-size="8.5" text-anchor="start" fill="#0a0a0a">Medium</text>
<line x1="628.6" y1="278.8" x2="643.8" y2="278.8" stroke="#45b549" stroke-width="2.8"/>
<text class="k" x="646.6" y="281.8" font-size="8.5" text-anchor="start" fill="#0a0a0a">Low</text>
</svg>
</body>
</html>
